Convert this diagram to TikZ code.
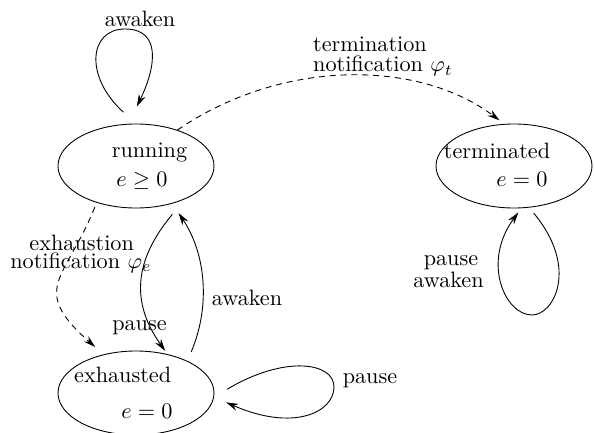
\documentclass[tikz,border=0pt]{standalone}
\usetikzlibrary{arrows.meta,shapes.geometric}

\begin{document}
\begin{tikzpicture}[x=0.45pt, y=-0.45pt,
    >={Stealth[length=5.5pt,width=3.2pt]},
    phase/.style={draw, ellipse, minimum width=70.2pt, minimum height=37.8pt, inner sep=0pt},
    txt/.style={anchor=base, inner sep=0pt},
    move/.style={->, thin},
    notify/.style={->, thin, dash pattern=on 2.7pt off 2.2pt},
    ]
    \useasboundingbox (0,0) rectangle (594,433);

    % states
    \node[phase] (run) at (136,166) {};
    \node[phase] (term) at (514,166) {};
    \node[phase] (exh) at (136,393) {};

    \node[txt] (runA) at (149.5,158) {running};
    \node[txt] (runB) at (142,186.7) {$e \geq 0$};
    \node[txt] (termA) at (497,158.3) {terminated};
    \node[txt] (termB) at (522,186.7) {$e = 0$};
    \node[txt] (exhA) at (122.7,382.7) {exhausted};
    \node[txt] (exhB) at (147,418.3) {$e = 0$};

    % labels
    \node[txt] (awA) at (140,27) {awaken};
    \node[txt, anchor=base west] (tnA) at (312.7,51.7) {termination};
    \node[txt, anchor=base west] (tnB) at (312.7,71.7) {notification $\varphi_t$};
    \node[txt] (tlA) at (451,265.7) {pause};
    \node[txt] (tlB) at (448.5,287) {awaken};
    \node[txt] (enA) at (81.7,250.5) {exhaustion};
    \node[txt] (enB) at (81,268.5) {notification $\varphi_e$};
    \node[txt] (psA) at (139.5,330) {pause};
    \node[txt] (awB) at (247,305) {awaken};
    \node[txt] (psB) at (370,383.3) {pause};

    % transitions
    \draw[move, shorten <=7.6pt, shorten >=8.6pt] (run.north) .. controls +(-52,-47) and +(-36,0) .. (125,29)
        .. controls +(36,0) and +(28,-58) .. (run.100);
    \draw[notify, shorten >=2.7pt] (run.41) .. controls +(104,-71) and +(-87,-65) .. (term.103);
    \draw[move, shorten <=3.2pt, shorten >=2.3pt] (term.-70) .. controls +(50,60) and +(22,0) .. (532,315)
        .. controls +(-27,0) and +(-40,54) .. (term.-80);
    \draw[notify, shorten <=2.2pt, shorten >=5pt] (run.-137) .. controls +(-31,77) and +(-75,-66) .. (exh.130);
    \draw[move, shorten <=8.9pt, shorten >=1.8pt] (run.-34) .. controls +(-51,61) and +(-37,-52) .. (exh.51);
    \draw[move, shorten <=4.4pt, shorten >=5.1pt] (exh.32) .. controls +(23,-54) and +(34,51) .. (run.-46);
    \draw[move, shorten <=6.8pt, shorten >=5.9pt] (exh.-3) .. controls +(70,-42) and +(0,-25) .. (334,387)
        .. controls +(0,25) and +(80,35) .. (exh.-3);
\end{tikzpicture}
\end{document}
